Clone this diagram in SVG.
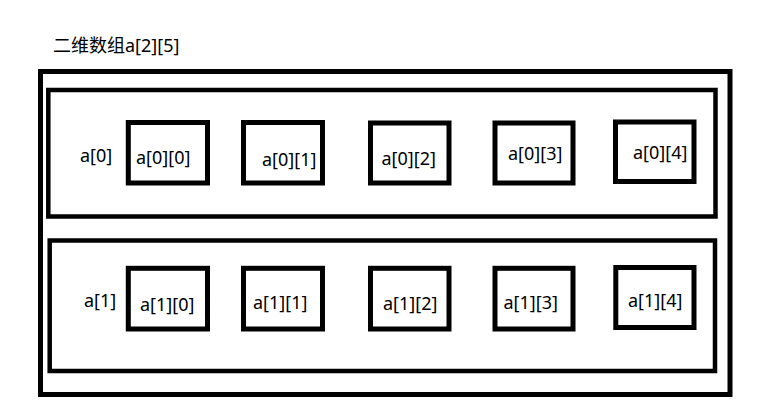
<svg xmlns="http://www.w3.org/2000/svg" width="767" height="419" viewBox="0 0 767 419">
<style>
.box{fill:none;stroke:#000;stroke-width:5}
.row{fill:none;stroke:#000;stroke-width:4.5}
text{font-family:"Noto Sans","Noto Sans CJK SC",sans-serif;font-size:18px;fill:#000}
</style>
<rect width="767" height="419" fill="#fff"/>
<text id="title" x="53" y="52">二维数组a[2][5]</text>
<g id="array"><rect class="box" x="40.5" y="71.5" width="689.5" height="323"/></g>
<g id="row0">
<rect class="row" x="48.3" y="90" width="667.2" height="126.5"/>
<text x="80" y="161.5">a[0]</text>
</g>
<g id="a00"><rect class="box" x="128.3" y="122.5" width="79.2" height="60.5"/><text x="136" y="164">a[0][0]</text></g>
<g id="a01"><rect class="box" x="243.5" y="122.5" width="79" height="60.5"/><text x="262" y="166">a[0][1]</text></g>
<g id="a02"><rect class="box" x="370.5" y="123" width="78.5" height="60"/><text x="381.5" y="165">a[0][2]</text></g>
<g id="a03"><rect class="box" x="495" y="123" width="78" height="60"/><text x="508" y="160">a[0][3]</text></g>
<g id="a04"><rect class="box" x="615.5" y="122" width="78.5" height="59.5"/><text x="633" y="159">a[0][4]</text></g>
<g id="row1">
<rect class="row" x="49.7" y="240.5" width="665.3" height="130.5"/>
<text x="84" y="307">a[1]</text>
</g>
<g id="a10"><rect class="box" x="128.3" y="268.3" width="79.2" height="60.7"/><text x="140" y="310.5">a[1][0]</text></g>
<g id="a11"><rect class="box" x="243.5" y="268.3" width="79" height="60.7"/><text x="253" y="309">a[1][1]</text></g>
<g id="a12"><rect class="box" x="370.5" y="268.3" width="78.5" height="60.7"/><text x="383" y="310">a[1][2]</text></g>
<g id="a13"><rect class="box" x="495" y="268.3" width="78" height="60.7"/><text x="503.5" y="309">a[1][3]</text></g>
<g id="a14"><rect class="box" x="615.8" y="267.5" width="78.2" height="60"/><text x="628" y="307">a[1][4]</text></g>
<g id="connectors"></g>
</svg>
